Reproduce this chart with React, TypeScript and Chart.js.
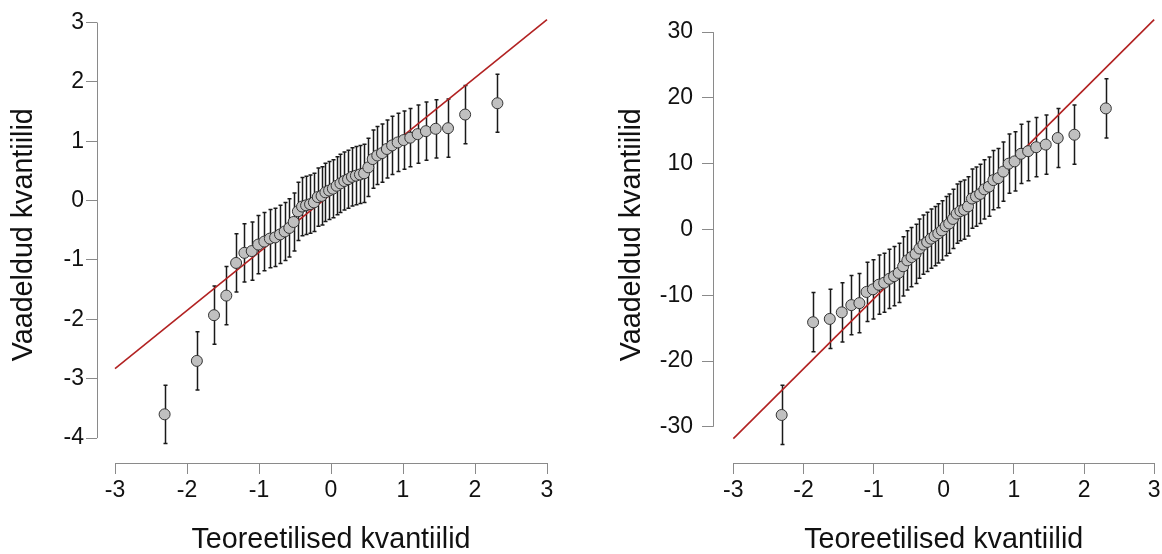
import React, { useEffect, useRef } from "react";
import { Chart, registerables } from "chart.js";

Chart.register(...registerables);

// Theoretical normal quantiles (48 points)
const theoreticalQuantiles = [
  -2.311, -1.863, -1.625, -1.454, -1.318, -1.203, -1.101, -1.01, -0.926, -0.849,
  -0.776, -0.708, -0.643, -0.579, -0.519, -0.46, -0.402, -0.346, -0.291, -0.237,
  -0.184, -0.131, -0.078, -0.026, 0.026, 0.078, 0.131, 0.184, 0.237, 0.291,
  0.346, 0.402, 0.46, 0.519, 0.579, 0.643, 0.708, 0.776, 0.849, 0.926,
  1.01, 1.101, 1.203, 1.318, 1.454, 1.625, 1.863, 2.311,
];

// Observed quantiles, left panel
const leftObserved = [
  -3.6, -2.7, -1.93, -1.6, -1.05, -0.88, -0.85, -0.74, -0.69, -0.64,
  -0.62, -0.57, -0.52, -0.46, -0.36, -0.18, -0.1, -0.08, -0.06, -0.03,
  0.06, 0.08, 0.14, 0.17, 0.2, 0.25, 0.29, 0.33, 0.36, 0.4,
  0.42, 0.44, 0.46, 0.56, 0.7, 0.76, 0.8, 0.87, 0.93, 0.98,
  1.02, 1.06, 1.12, 1.17, 1.21, 1.22, 1.45, 1.64,
];

// Observed quantiles, right panel
const rightObserved = [
  -28.2, -14.1, -13.6, -12.6, -11.5, -11.2, -9.5, -9.1, -8.4, -8.1,
  -7.5, -7.1, -6.6, -5.6, -4.7, -4.2, -3.7, -2.9, -2.3, -1.9,
  -1.4, -1.0, -0.6, -0.15, 0.5, 0.9, 1.6, 2.4, 2.8, 3.0,
  3.5, 4.7, 5.0, 5.4, 6.1, 6.5, 7.5, 7.8, 8.8, 10.0,
  10.35, 11.5, 11.9, 12.5, 12.9, 13.9, 14.4, 18.4,
];

// Error bar half-widths
const leftHalfWidth = 0.49;
const rightHalfWidth = 4.5;

// Tick labels
const xTicks = [-3, -2, -1, 0, 1, 2, 3];
const leftYTicks = [-4, -3, -2, -1, 0, 1, 2, 3];
const rightYTicks = [-30, -20, -10, 0, 10, 20, 30];

// Reference lines
const refLineX = [-3, 3];
const leftRefLineY = [-2.83, 3.05];
const rightRefLineY = [-31.8, 31.9];

const xTitle = "Teoreetilised kvantiilid";
const yTitle = "Vaadeldud kvantiilid";

const FONT = "'Liberation Sans', Arial, Helvetica, sans-serif";
const AXIS_COLOR = "#8a8a8a";
const TEXT_COLOR = "#111111";

const errorBarPlugin = {
  id: "errorBars",
  beforeDatasetsDraw(chart: any) {
    const { ctx, scales } = chart;
    const xs = scales.x;
    const ys = scales.y;
    ctx.save();
    ctx.strokeStyle = "#1a1a1a";
    ctx.lineWidth = 1.5;
    chart.data.datasets.forEach((ds: any) => {
      if (!ds.errorBars) return;
      ds.data.forEach((p: any) => {
        const px = Math.round(xs.getPixelForValue(p.x)) + 0.5;
        const lo = ys.getPixelForValue(p.yMin);
        const hi = ys.getPixelForValue(p.yMax);
        ctx.beginPath();
        ctx.moveTo(px, lo);
        ctx.lineTo(px, hi);
        ctx.moveTo(px - 2, lo);
        ctx.lineTo(px + 2, lo);
        ctx.moveTo(px - 2, hi);
        ctx.lineTo(px + 2, hi);
        ctx.stroke();
      });
    });
    ctx.restore();
  },
};

const axisLinePlugin = {
  id: "axisLines",
  afterDraw(chart: any) {
    const { ctx, chartArea, scales } = chart;
    const xs = scales.x;
    const ys = scales.y;
    const xt = xs.ticks;
    const yt = ys.ticks;
    ctx.save();
    ctx.strokeStyle = AXIS_COLOR;
    ctx.lineWidth = 1;
    ctx.beginPath();
    const bx = Math.round(chartArea.bottom) + 0.5;
    ctx.moveTo(xs.getPixelForValue(xt[0].value), bx);
    ctx.lineTo(xs.getPixelForValue(xt[xt.length - 1].value), bx);
    const lx = Math.round(chartArea.left) + 0.5;
    ctx.moveTo(lx, ys.getPixelForValue(yt[0].value));
    ctx.lineTo(lx, ys.getPixelForValue(yt[yt.length - 1].value));
    ctx.stroke();
    ctx.restore();
  },
};

type PanelProps = {
  observed: number[];
  half: number;
  yTicks: number[];
  refY: number[];
  xMin: number;
  xMax: number;
  yMin: number;
  yMax: number;
  yAxisWidth: number;
  yTitlePad: number;
  yTickPad: number;
  padRight: number;
  left: number;
  width: number;
};

function QQPanel(props: PanelProps) {
  const ref = useRef<HTMLCanvasElement>(null);
  useEffect(() => {
    const pts = theoreticalQuantiles.map((q, i) => ({
      x: q,
      y: props.observed[i],
      yMin: props.observed[i] - props.half,
      yMax: props.observed[i] + props.half,
    }));
    const line = refLineX.map((x, i) => ({ x, y: props.refY[i] }));
    const chart = new Chart(ref.current as HTMLCanvasElement, {
      type: "scatter",
      data: {
        datasets: [
          {
            type: "scatter",
            data: pts,
            errorBars: true,
            pointRadius: 5.5,
            pointBackgroundColor: "#c0c0c0",
            pointBorderColor: "#333333",
            pointBorderWidth: 1,
          } as any,
          {
            type: "line",
            data: line,
            borderColor: "#b22222",
            borderWidth: 1.6,
            pointRadius: 0,
            fill: false,
          } as any,
        ],
      },
      options: {
        responsive: false,
        animation: false,
        events: [],
        layout: { padding: { top: 5, right: props.padRight, bottom: 0, left: 0 } },
        plugins: { legend: { display: false }, tooltip: { enabled: false } },
        scales: {
          x: {
            type: "linear",
            position: "bottom",
            min: props.xMin,
            max: props.xMax,
            afterBuildTicks: (s: any) => {
              s.ticks = xTicks.map((v) => ({ value: v }));
            },
            afterFit: (s: any) => {
              s.height = 91;
              s.paddingLeft = 0;
              s.paddingRight = 0;
            },
            border: { display: false },
            grid: {
              display: true,
              drawOnChartArea: false,
              drawTicks: true,
              tickLength: 11,
              color: AXIS_COLOR,
              lineWidth: 1,
            },
            ticks: {
              font: { family: FONT, size: 23 },
              color: TEXT_COLOR,
              padding: 3,
              maxRotation: 0,
              autoSkip: false,
              callback: (v: any) => String(v),
            },
            title: {
              display: true,
              text: xTitle,
              font: { family: FONT, size: 28.7, lineHeight: 1 },
              color: TEXT_COLOR,
              padding: { top: 0, bottom: 0 },
            },
          },
          y: {
            type: "linear",
            position: "left",
            min: props.yMin,
            max: props.yMax,
            afterBuildTicks: (s: any) => {
              s.ticks = props.yTicks.map((v) => ({ value: v }));
            },
            afterFit: (s: any) => {
              s.width = props.yAxisWidth;
              s.paddingTop = 0;
              s.paddingBottom = 0;
            },
            border: { display: false },
            grid: {
              display: true,
              drawOnChartArea: false,
              drawTicks: true,
              tickLength: 11,
              color: AXIS_COLOR,
              lineWidth: 1,
            },
            ticks: {
              font: { family: FONT, size: 23 },
              color: TEXT_COLOR,
              padding: props.yTickPad,
              autoSkip: false,
              callback: (v: any) => String(v),
            },
            title: {
              display: true,
              text: yTitle,
              font: { family: FONT, size: 28.7, lineHeight: 1 },
              color: TEXT_COLOR,
              padding: { top: props.yTitlePad, bottom: 0 },
            },
          },
        },
      } as any,
      plugins: [errorBarPlugin, axisLinePlugin],
    });
    return () => chart.destroy();
  }, []);
  return (
    <canvas
      ref={ref}
      width={props.width}
      height={554}
      style={{ position: "absolute", left: props.left, top: 0, display: "block", width: props.width, height: 554 }}
    />
  );
}

export default function App() {
  return (
    <div
      style={{
        position: "fixed",
        left: 0,
        top: 0,
        width: 1162,
        height: 554,
        overflow: "hidden",
        background: "#ffffff",
      }}
    >
      <QQPanel
        observed={leftObserved}
        half={leftHalfWidth}
        yTicks={leftYTicks}
        refY={leftRefLineY}
        xMin={-3.25}
        xMax={3.25}
        yMin={-4.42}
        yMax={3.27}
        yAxisWidth={97}
        yTitlePad={10}
        yTickPad={2}
        padRight={16}
        left={0}
        width={581}
      />
      <QQPanel
        observed={rightObserved}
        half={rightHalfWidth}
        yTicks={rightYTicks}
        refY={rightRefLineY}
        xMin={-3.29}
        xMax={3.29}
        yMin={-35.5}
        yMax={33.89}
        yAxisWidth={132}
        yTitlePad={37}
        yTickPad={9}
        padRight={4}
        left={581}
        width={600}
      />
    </div>
  );
}
